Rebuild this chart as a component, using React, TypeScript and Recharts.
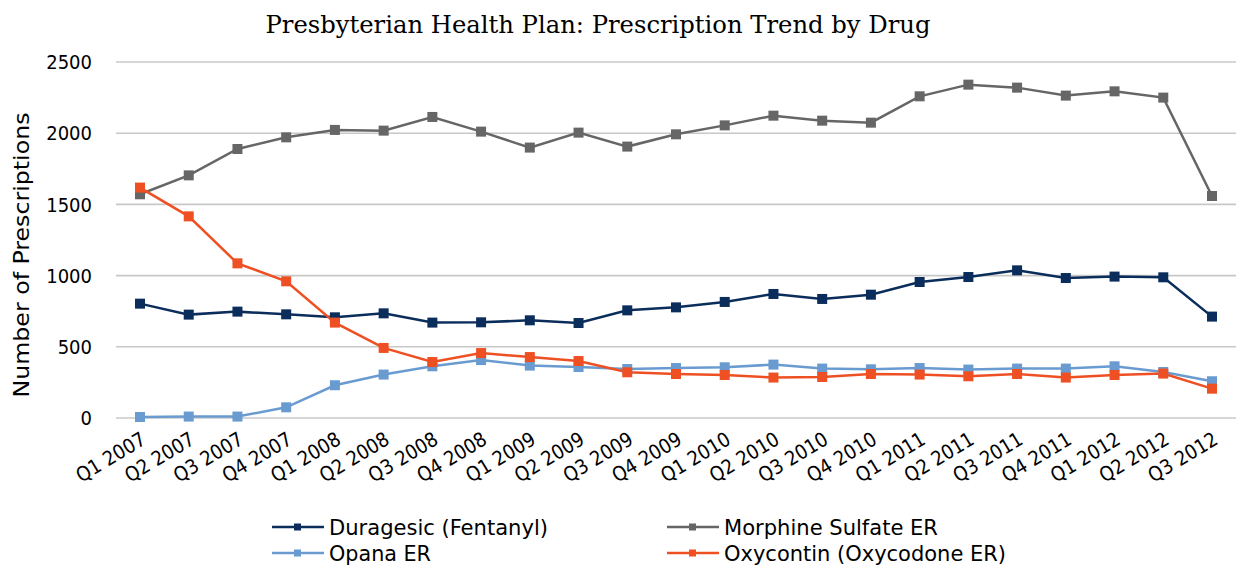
import React from 'react';
import { LineChart, Line, XAxis, YAxis, CartesianGrid, Legend } from 'recharts';

const categories = [
  'Q1 2007', 'Q2 2007', 'Q3 2007', 'Q4 2007',
  'Q1 2008', 'Q2 2008', 'Q3 2008', 'Q4 2008',
  'Q1 2009', 'Q2 2009', 'Q3 2009', 'Q4 2009',
  'Q1 2010', 'Q2 2010', 'Q3 2010', 'Q4 2010',
  'Q1 2011', 'Q2 2011', 'Q3 2011', 'Q4 2011',
  'Q1 2012', 'Q2 2012', 'Q3 2012',
];

const duragesic = [803, 726, 747, 728, 707, 735, 670, 672, 686, 667, 756, 777, 815, 871, 836, 866, 955, 990, 1037, 983, 993, 988, 712];
const morphine = [1571, 1704, 1889, 1971, 2023, 2018, 2114, 2011, 1899, 2004, 1906, 1992, 2055, 2123, 2088, 2074, 2259, 2341, 2320, 2264, 2294, 2250, 1559];
const opana = [7, 10, 10, 75, 230, 305, 363, 407, 368, 358, 344, 351, 356, 375, 347, 342, 351, 340, 347, 347, 363, 323, 258];
const oxycontin = [1618, 1416, 1086, 960, 670, 492, 393, 456, 428, 400, 321, 309, 302, 284, 288, 309, 305, 293, 309, 284, 302, 312, 206];

const yTicks = [0, 500, 1000, 1500, 2000, 2500];

const seriesNames = ['Duragesic (Fentanyl)', 'Morphine Sulfate ER', 'Opana ER', 'Oxycontin (Oxycodone ER)'];
const seriesKeys = ['duragesic', 'morphine', 'opana', 'oxycontin'];
const seriesColors = ['#0B2D5B', '#666666', '#6A9BD0', '#EF5023'];

const data = categories.map((c, i) => ({
  name: c,
  duragesic: duragesic[i],
  morphine: morphine[i],
  opana: opana[i],
  oxycontin: oxycontin[i],
}));

const SANS = '"DejaVu Sans Condensed", "DejaVu Sans", sans-serif';

const squareDot = (color: string) => (props: any) => {
  const { cx, cy, index } = props;
  if (cx == null || cy == null) return <g key={`d-${index}`} />;
  return <rect key={`d-${index}`} x={cx - 5} y={cy - 5} width={10} height={10} fill={color} />;
};

const legendItems = [
  { idx: 0, x: 272, y: 22, tl: 219 },
  { idx: 1, x: 667, y: 22, tl: 214 },
  { idx: 2, x: 272, y: 48, tl: 102 },
  { idx: 3, x: 667, y: 48, tl: 282 },
];

const LegendContent = () => (
  <svg width={1236} height={60} style={{ display: 'block' }}>
    {legendItems.map((it) => (
      <g key={it.idx}>
        <line x1={it.x} x2={it.x + 52} y1={it.y} y2={it.y} stroke={seriesColors[it.idx]} strokeWidth={2.5} />
        <rect x={it.x + 22} y={it.y - 3.5} width={7} height={7} fill={seriesColors[it.idx]} />
        <text
          x={it.x + 57}
          y={it.y + 7.5}
          fontFamily={SANS}
          fontSize={21}
          fill="#000"
          textLength={it.tl}
          lengthAdjust="spacingAndGlyphs"
        >
          {seriesNames[it.idx]}
        </text>
      </g>
    ))}
  </svg>
);

const YLabel = (props: any) => {
  const vb = props.viewBox || {};
  const cy = (vb.y ?? 62) + (vb.height ?? 356) / 2 + 15;
  return (
    <text
      x={22}
      y={cy}
      transform={`rotate(-90, 22, ${cy})`}
      textAnchor="middle"
      dominantBaseline="central"
      fontFamily={SANS}
      fontSize={21}
      fill="#000"
      textLength={285}
      lengthAdjust="spacingAndGlyphs"
    >
      Number of Prescriptions
    </text>
  );
};

export default function App() {
  return (
    <div style={{ position: 'absolute', left: 0, top: 0, width: 1236, height: 565, background: '#fff' }}>
      <LineChart
        width={1236}
        height={565}
        data={data}
        margin={{ top: 62, right: 0, bottom: 0, left: 0 }}
      >
        <CartesianGrid vertical={false} stroke="#C8C8C8" strokeWidth={1.6} />
        <XAxis
          dataKey="name"
          interval={0}
          height={147}
          padding={{ left: 24, right: 24 }}
          axisLine={false}
          tickLine={false}
          tickSize={0}
          tickMargin={13}
          angle={-31}
          textAnchor="end"
          tick={{ fontFamily: SANS, fontSize: 20, fill: '#000' }}
        />
        <YAxis
          width={116}
          domain={[0, 2500]}
          ticks={yTicks}
          interval={0}
          axisLine={false}
          tickLine={false}
          tickSize={0}
          tickMargin={24}
          tick={{ fontFamily: SANS, fontSize: 20, fill: '#000' }}
          label={<YLabel />}
        />
        <Legend
          layout="horizontal"
          align="center"
          verticalAlign="middle"
          wrapperStyle={{ position: 'absolute', left: 0, top: 505, width: 1236, height: 60, margin: 0 }}
          content={<LegendContent />}
        />
        {seriesKeys.map((k, i) => (
          <Line
            key={k}
            type="linear"
            dataKey={k}
            name={seriesNames[i]}
            stroke={seriesColors[i]}
            strokeWidth={2.5}
            dot={squareDot(seriesColors[i])}
            activeDot={false}
            isAnimationActive={false}
          />
        ))}
      </LineChart>
      <svg
        width={1236}
        height={50}
        style={{ position: 'absolute', left: 0, top: 0, pointerEvents: 'none' }}
      >
        <text
          x={598}
          y={33}
          textAnchor="middle"
          fontFamily='"DejaVu Serif", serif'
          fontSize={25}
          fill="#000"
          textLength={665}
          lengthAdjust="spacingAndGlyphs"
        >
          Presbyterian Health Plan: Prescription Trend by Drug
        </text>
      </svg>
    </div>
  );
}
